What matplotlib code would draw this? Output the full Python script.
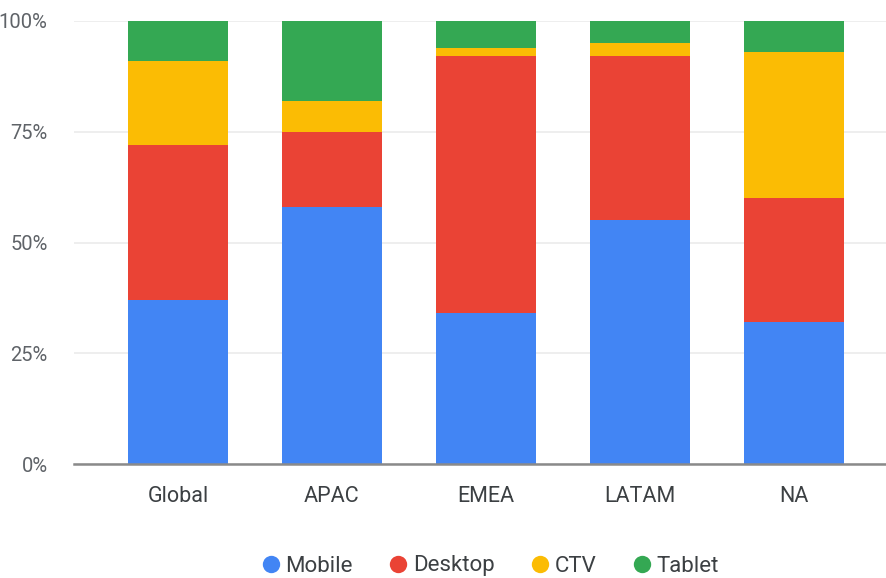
import matplotlib
matplotlib.use("Agg")
import matplotlib.pyplot as plt
from matplotlib.lines import Line2D
import numpy as np

plt.rcParams['font.family'] = ['Roboto', 'DejaVu Sans']

categories = ["Global", "APAC", "EMEA", "LATAM", "NA"]
series_names = ["Mobile", "Desktop", "CTV", "Tablet"]
mobile = [37, 58, 34, 55, 32]
desktop = [35, 17, 58, 37, 28]
ctv = [19, 7, 2, 3, 33]
tablet = [9, 18, 6, 5, 7]
colors = ["#4285F4", "#EA4335", "#FBBC04", "#34A853"]
yticks = [0, 25, 50, 75, 100]
ytick_labels = ["0%", "25%", "50%", "75%", "100%"]

fig = plt.figure(figsize=(8.86, 5.78), dpi=100)
ax = fig.add_axes([74/886, (578-464)/578, 1-74/886, (464-21)/578])

x = np.arange(len(categories))
bottom = np.zeros(len(categories))
for vals, c in zip([mobile, desktop, ctv, tablet], colors):
    ax.bar(x, vals, bottom=bottom, width=0.65, color=c, zorder=3, linewidth=0)
    bottom += np.array(vals)

ax.set_xlim(-0.675, 4.6)
ax.set_ylim(0, 100)
ax.set_yticks(yticks)
ax.set_yticklabels(ytick_labels)
ax.set_xticks(x)
ax.set_xticklabels(categories)
ax.grid(axis='y', color='#ebebeb', linewidth=1.2, zorder=0)
for s in ['top', 'right', 'left']:
    ax.spines[s].set_visible(False)
ax.spines['bottom'].set_color('#8a8a8a')
ax.spines['bottom'].set_linewidth(1.8)
ax.spines['bottom'].set_zorder(4)
ax.tick_params(axis='y', length=0, pad=19, labelsize=14.5, labelcolor='#5f6368')
ax.tick_params(axis='x', length=0, pad=16, labelsize=15.5, labelcolor='#3c4043')

handles = [Line2D([0], [0], marker='o', linestyle='', markersize=12.5,
                  markerfacecolor=c, markeredgewidth=0) for c in colors]
fig.legend(handles, series_names, loc='center', bbox_to_anchor=(487/886, 1-566/578),
           ncol=4, frameon=False, fontsize=16, handletextpad=-0.05, columnspacing=1.35,
           handlelength=1.4, labelcolor='#3c4043')

fig.savefig("out.png", dpi=100)
